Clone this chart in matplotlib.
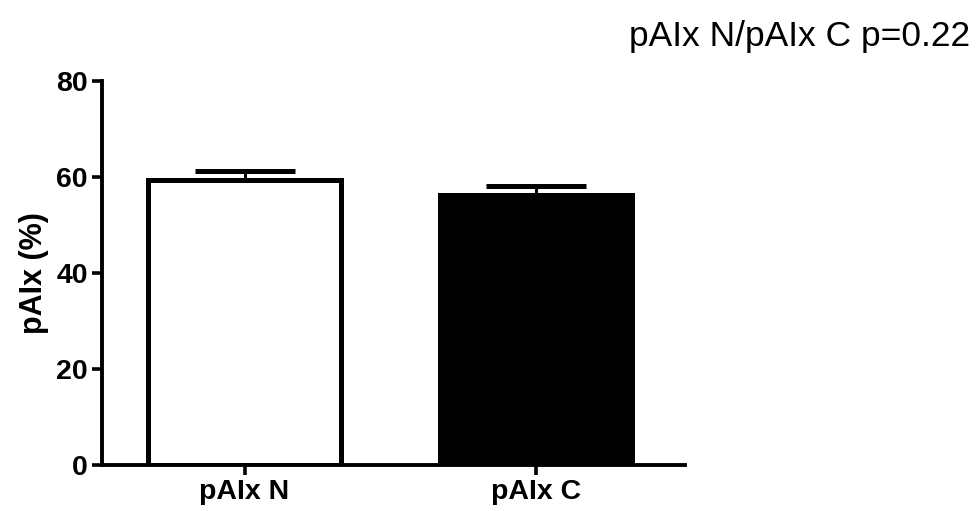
"""
bar chart of pAIx for the N and C groups, mean with upward SEM bars
"""

import matplotlib
matplotlib.use("Agg")
import matplotlib.pyplot as plt

plt.rcParams['font.family'] = ['Liberation Sans', 'DejaVu Sans']

# group means and SEM
groups = ['pAIx N', 'pAIx C']
means = [59.4, 56.3]
sems = [1.9, 1.8]
fills = ['white', 'black']

y_ticks = [0, 20, 40, 60, 80]

fig = plt.figure(figsize=(9.77, 5.11), dpi=100)
ax = fig.add_axes([0.104, 0.090, 0.597, 0.752])

x = list(range(len(groups)))

# only the upper half of the error bar is shown
ax.errorbar(x, means, yerr=[[0] * len(sems), sems], fmt='none',
            ecolor='black', elinewidth=2.2, capsize=36, capthick=3.6,
            zorder=1)
for line in ax.lines:
    line.set_solid_capstyle('round')

ax.bar(x, means, width=0.66, color=fills, edgecolor='black',
       linewidth=3.6, zorder=2)

ax.set_xlim(-0.49, 1.51)
ax.set_ylim(0, 80)
ax.set_yticks(y_ticks)
ax.set_xticks(x)
ax.set_xticklabels(groups)

for side in ['top', 'right']:
    ax.spines[side].set_visible(False)
for side in ['left', 'bottom']:
    ax.spines[side].set_linewidth(2.8)

ax.tick_params(axis='both', direction='out', length=7, width=2.6,
               labelsize=20.5, pad=3)
for lbl in ax.get_xticklabels() + ax.get_yticklabels():
    lbl.set_fontweight('bold')

ax.set_ylabel('pAIx (%)', fontsize=22, fontweight='bold', labelpad=5)

fig.text(0.993, 0.96, 'pAIx N/pAIx C p=0.22', fontsize=25.5,
         ha='right', va='top')

plt.savefig('out.png', dpi=100)
plt.close()
